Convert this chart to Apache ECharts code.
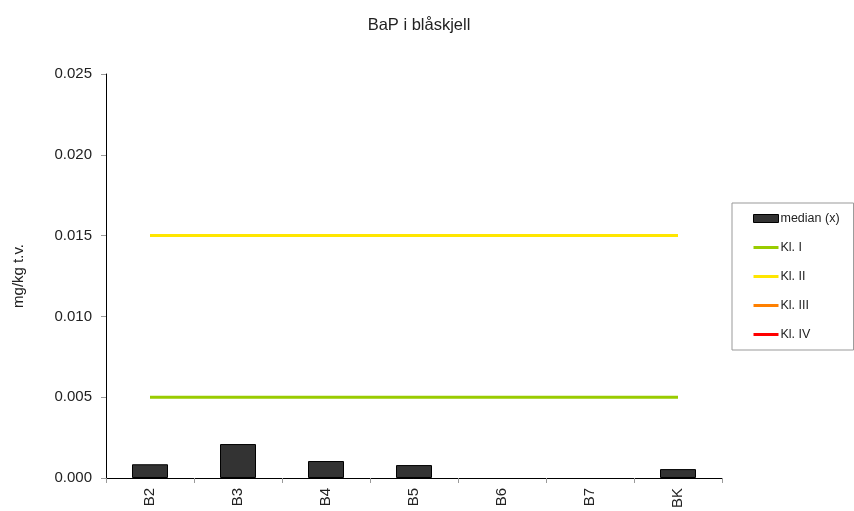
<!DOCTYPE html>
<html>
<head>
<meta charset="utf-8">
<script src="https://cdn.jsdelivr.net/npm/echarts@6/dist/echarts.min.js"></script>
<style>html,body{margin:0;padding:0;background:#fff;}#c{width:854px;height:511px;}</style>
</head>
<body>
<div id="c"></div>
<script>
var titleText = 'BaP i blåskjell';
var yAxisName = 'mg/kg t.v.';
var categories = ['B2', 'B3', 'B4', 'B5', 'B6', 'B7', 'BK'];
var median = [0.00085, 0.0021, 0.00105, 0.0008, null, null, 0.00055];
var kl1 = [0.005, 0.005, 0.005, 0.005, 0.005, 0.005, 0.005];
var kl2 = [0.015, 0.015, 0.015, 0.015, 0.015, 0.015, 0.015];
var kl3 = [null, null, null, null, null, null, null];
var kl4 = [null, null, null, null, null, null, null];
var seriesNames = ['median (x)', 'Kl. I', 'Kl. II', 'Kl. III', 'Kl. IV'];
var lineColors = ['#99cc00', '#ffe600', '#ff8000', '#ff0000'];

var chart = echarts.init(document.getElementById('c'), null, {renderer: 'canvas'});
var font = 'Liberation Sans, Arial, sans-serif';
var lineIcon = 'path://M0,0 H25 V3 H0 Z';
function lineSeries(name, data, color) {
  return {
    name: name, type: 'line', data: data, symbol: 'none',
    lineStyle: {color: color, width: 3}, itemStyle: {color: color},
    silent: true, animation: false
  };
}
chart.setOption({
  animation: false,
  textStyle: {fontFamily: font},
  title: {
    text: titleText, left: 414, top: 12, textAlign: 'center',
    textStyle: {fontFamily: font, fontSize: 16.5, fontWeight: 'normal', color: '#222'}
  },
  grid: {left: 106, right: 132, top: 74, bottom: 28, containLabel: false},
  legend: {
    orient: 'vertical', left: 732, top: 203,
    padding: [9, 14, 9, 21],
    borderColor: '#999', borderWidth: 1,
    itemWidth: 25, itemHeight: 8, itemGap: 16,
    textStyle: {fontFamily: font, fontSize: 12.5, color: '#222', padding: [0, 0, 0, -3]},
    data: [
      {name: seriesNames[0], icon: 'rect', itemStyle: {color: '#333', borderColor: '#000', borderWidth: 1}},
      {name: seriesNames[1], icon: lineIcon},
      {name: seriesNames[2], icon: lineIcon},
      {name: seriesNames[3], icon: lineIcon},
      {name: seriesNames[4], icon: lineIcon}
    ]
  },
  xAxis: {
    type: 'category', data: categories,
    axisLine: {lineStyle: {color: '#000', width: 1}},
    axisTick: {show: true, length: 5, lineStyle: {color: '#999'}},
    axisLabel: {rotate: 90, fontSize: 15, color: '#222', margin: 10, fontFamily: font}
  },
  yAxis: {
    type: 'value', min: 0, max: 0.025, interval: 0.005,
    name: yAxisName, nameLocation: 'middle', nameGap: 80, nameRotate: 90,
    nameTextStyle: {fontSize: 15, color: '#222', fontFamily: font},
    axisLine: {show: true, lineStyle: {color: '#000', width: 1}},
    axisTick: {show: true, length: 5, lineStyle: {color: '#999'}},
    splitLine: {show: false},
    axisLabel: {fontSize: 15, color: '#222', margin: 14, fontFamily: font,
      formatter: function (v) { return v.toFixed(3); }}
  },
  series: [
    {
      name: seriesNames[0], type: 'bar', data: median, barWidth: 36,
      itemStyle: {color: '#333', borderColor: '#000', borderWidth: 1}
    },
    lineSeries(seriesNames[1], kl1, lineColors[0]),
    lineSeries(seriesNames[2], kl2, lineColors[1]),
    lineSeries(seriesNames[3], kl3, lineColors[2]),
    lineSeries(seriesNames[4], kl4, lineColors[3])
  ]
});
</script>
</body>
</html>
